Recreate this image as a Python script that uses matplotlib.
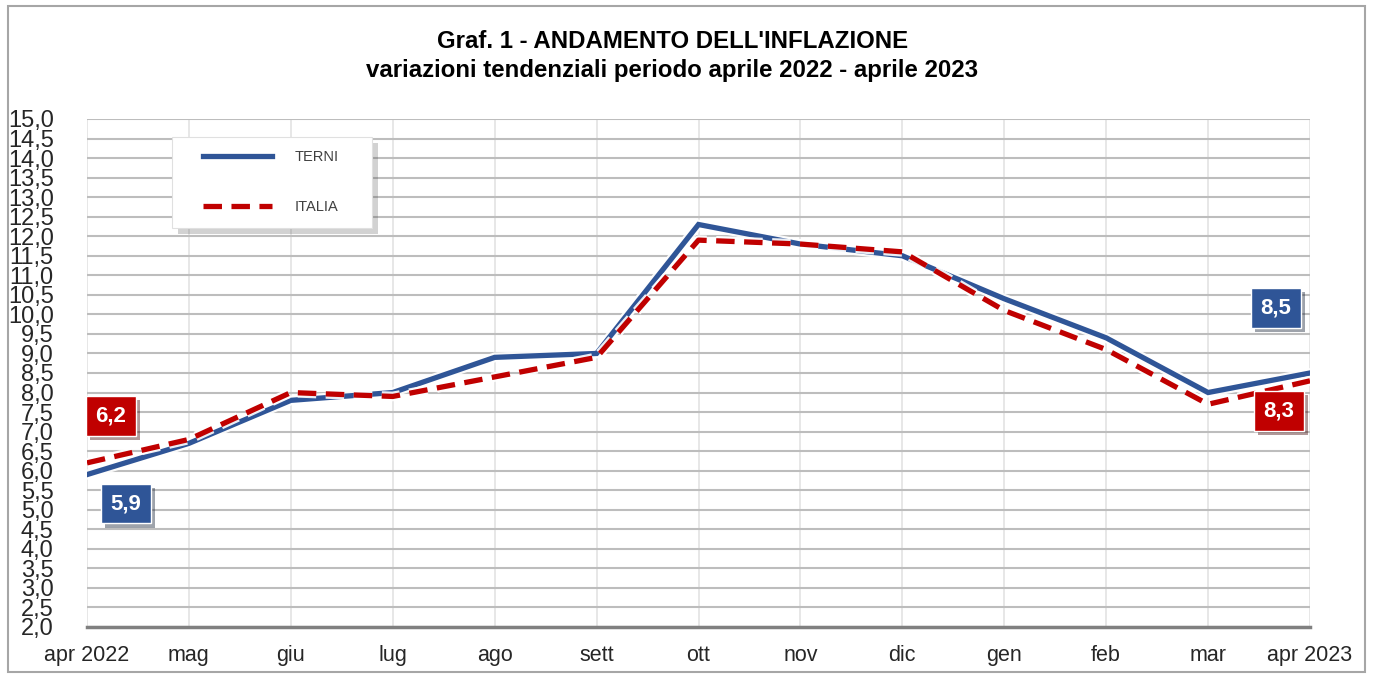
import matplotlib
matplotlib.use("Agg")
import matplotlib.pyplot as plt
import matplotlib.patheffects as pe
from matplotlib.patches import Rectangle

# Dati (variazioni tendenziali %)
mesi = ["apr 2022", "mag", "giu", "lug", "ago", "sett", "ott", "nov", "dic",
        "gen", "feb", "mar", "apr 2023"]
terni = [5.9, 6.7, 7.8, 8.0, 8.9, 9.0, 12.3, 11.8, 11.5, 10.4, 9.4, 8.0, 8.5]
italia = [6.2, 6.8, 8.0, 7.9, 8.4, 8.9, 11.9, 11.8, 11.6, 10.1, 9.1, 7.7, 8.3]
y_ticks = [2.0 + 0.5 * i for i in range(27)]

blu = "#2F5597"
rosso = "#C00000"
font_narrow = ["Liberation Sans Narrow", "Liberation Sans", "DejaVu Sans"]

W, H = 1375, 678
fig = plt.figure(figsize=(W / 100, H / 100), dpi=100, facecolor="white")
ax = fig.add_axes([87 / W, 1 - 627 / H, 1223 / W, 508 / H])

x = list(range(len(mesi)))

# Linee
glow = [pe.Stroke(linewidth=7, foreground="white", alpha=0.9), pe.Normal()]
ax.plot(x, terni, color=blu, linewidth=3.8, solid_joinstyle="miter",
        label="TERNI", path_effects=glow, zorder=4)
ax.plot(x, italia, color=rosso, linewidth=3.8, linestyle=(0, (3.5, 1.8)),
        label="ITALIA", path_effects=glow, zorder=5)

# Assi e griglia
ax.set_xlim(0, len(mesi) - 1)
ax.set_ylim(2.0, 15.0)
ax.set_yticks(y_ticks)
ax.set_yticklabels([f"{v:.1f}".replace(".", ",") for v in y_ticks],
                   fontsize=17, family=font_narrow, color="#262626")
ax.set_xticks(x)
ax.set_xticklabels(mesi, fontsize=15.5, family=font_narrow, color="#262626")
ax.tick_params(axis="y", length=0, pad=24)
ax.tick_params(axis="x", length=0, pad=13)
ax.grid(axis="y", color="#BDBDBD", linewidth=1.5)
ax.grid(axis="x", color="#E3E3E3", linewidth=1.2)
ax.set_axisbelow(True)
for s in ["top", "right", "left"]:
    ax.spines[s].set_visible(False)
ax.spines["bottom"].set_color("#808080")
ax.spines["bottom"].set_linewidth(2.5)

# Etichette dei valori estremi
def etichetta(i, serie, colore, dx, dy):
    t = ax.annotate(f"{serie[i]:.1f}".replace(".", ","), xy=(x[i], serie[i]),
                    xytext=(dx, dy), textcoords="offset pixels",
                    ha="center", va="center", fontsize=16, fontweight="bold",
                    color="white", family=font_narrow, zorder=6,
                    bbox=dict(boxstyle="square,pad=0.42", fc=colore, ec="white", lw=1))
    t.get_bbox_patch().set_path_effects(
        [pe.SimplePatchShadow(offset=(3, -3), alpha=0.4), pe.Normal()])

etichetta(0, italia, rosso, 24, 47)
etichetta(0, terni, blu, 39, -29)
etichetta(len(mesi) - 1, terni, blu, -34, 65)
etichetta(len(mesi) - 1, italia, rosso, -31, -30)

# Cornice della legenda con ombra
box = Rectangle((172 / W, 1 - 228 / H), 200 / W, 91 / H, transform=fig.transFigure,
                facecolor="white", edgecolor="#E0E0E0", linewidth=0.8, zorder=7)
box.set_path_effects([pe.SimplePatchShadow(offset=(4, -4), alpha=0.25), pe.Normal()])
fig.patches.append(box)

# Legenda
leg = fig.legend(*ax.get_legend_handles_labels(), loc="upper left",
                 bbox_to_anchor=(203 / W, 1 - 150 / H),
                 frameon=False, handlelength=4.7, labelspacing=2.5,
                 borderpad=0, borderaxespad=0, handletextpad=1.6,
                 prop={"family": font_narrow, "size": 10.5})
leg.set_zorder(8)
for t in leg.get_texts():
    t.set_color("#404040")

# Titolo
fig.text(0.489, 1 - 42 / H, "Graf. 1 - ANDAMENTO DELL'INFLAZIONE",
         ha="center", va="center", fontsize=17.3, fontweight="bold", family=font_narrow)
fig.text(0.489, 1 - 70 / H, "variazioni tendenziali periodo aprile 2022 - aprile 2023",
         ha="center", va="center", fontsize=17.3, fontweight="bold", family=font_narrow)

# Cornice esterna
fig.patches.append(Rectangle((8 / W, 6 / H), 1357 / W, 666 / H,
                             transform=fig.transFigure, fill=False,
                             edgecolor="#A6A6A6", linewidth=1.5))

fig.savefig("out.png", dpi=100, facecolor="white")
